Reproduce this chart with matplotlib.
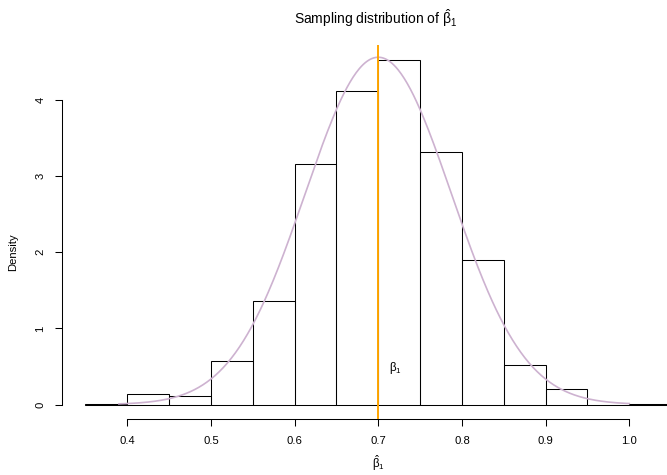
import numpy as np
import matplotlib
matplotlib.use("Agg")
import matplotlib.pyplot as plt

plt.rcParams['font.family'] = ['Liberation Sans', 'DejaVu Sans']
plt.rcParams['mathtext.fontset'] = 'custom'
plt.rcParams['mathtext.rm'] = 'Liberation Sans'
plt.rcParams['mathtext.it'] = 'Liberation Sans'

# Histogram data (density scale)
bin_edges = [0.35, 0.40, 0.45, 0.50, 0.55, 0.60, 0.65, 0.70, 0.75, 0.80, 0.85, 0.90, 0.95, 1.00, 1.05]
densities = [0.01, 0.14, 0.11, 0.57, 1.36, 3.16, 4.12, 4.52, 3.32, 1.90, 0.52, 0.21, 0.00, 0.01]

# Theoretical normal curve parameters
curve_mean = 0.70
curve_sd = 0.0875
curve_range = (0.39, 1.0)
true_beta1 = 0.70

x_ticks = [0.4, 0.5, 0.6, 0.7, 0.8, 0.9, 1.0]
x_tick_labels = ["0.4", "0.5", "0.6", "0.7", "0.8", "0.9", "1.0"]
y_ticks = [0, 1, 2, 3, 4]
y_tick_labels = ["0", "1", "2", "3", "4"]

W, H = 667, 475
fig = plt.figure(figsize=(W / 100, H / 100), dpi=100)
left_px, right_px, top_px, bot_px = 62, 694.5, 45, 419
ax = fig.add_axes([left_px / W, 1 - bot_px / H, (right_px - left_px) / W, (bot_px - top_px) / H])
ax.set_xlim(0.322, 1.078)
ax.set_ylim(-0.19, 4.72)

edges = np.array(bin_edges)
ax.bar(edges[:-1], densities, width=np.diff(edges), align='edge',
       facecolor='none', edgecolor='black', linewidth=0.75, zorder=2)

xs = np.linspace(curve_range[0], curve_range[1], 500)
ys = np.exp(-0.5 * ((xs - curve_mean) / curve_sd) ** 2) / (curve_sd * np.sqrt(2 * np.pi))
ax.plot(xs, ys, color='#CDB2D0', linewidth=1.2, zorder=3)

ax.axvline(true_beta1, color='#FFA500', linewidth=1.4, zorder=4)
ax.text(0.713, 0.48, r'$\beta_1$', fontsize=8.3, ha='left', va='center')

for s in ['top', 'right']:
    ax.spines[s].set_visible(False)
ax.spines['bottom'].set_bounds(0.4, 1.0)
ax.spines['left'].set_bounds(0, 4)
for s in ['bottom', 'left']:
    ax.spines[s].set_linewidth(0.75)

ax.set_xticks(x_ticks)
ax.set_xticklabels(x_tick_labels)
ax.set_yticks(y_ticks)
ax.set_yticklabels(y_tick_labels, rotation=90, va='center')
ax.tick_params(axis='both', direction='out', length=5, width=0.75, labelsize=8.1, colors='black')
ax.tick_params(axis='x', pad=7)
ax.tick_params(axis='y', pad=7)

ax.set_xlabel(r'$\hat{\beta}_1$', fontsize=8.3, labelpad=6)
fig.text(13 / W, 1 - 252 / H, 'Density', rotation=90, fontsize=8.1, ha='center', va='center')
fig.text(376 / W, 1 - 18 / H, r'Sampling distribution of $\hat{\beta}_1$', fontsize=10,
         ha='center', va='center')

fig.savefig('out.png', dpi=100)
